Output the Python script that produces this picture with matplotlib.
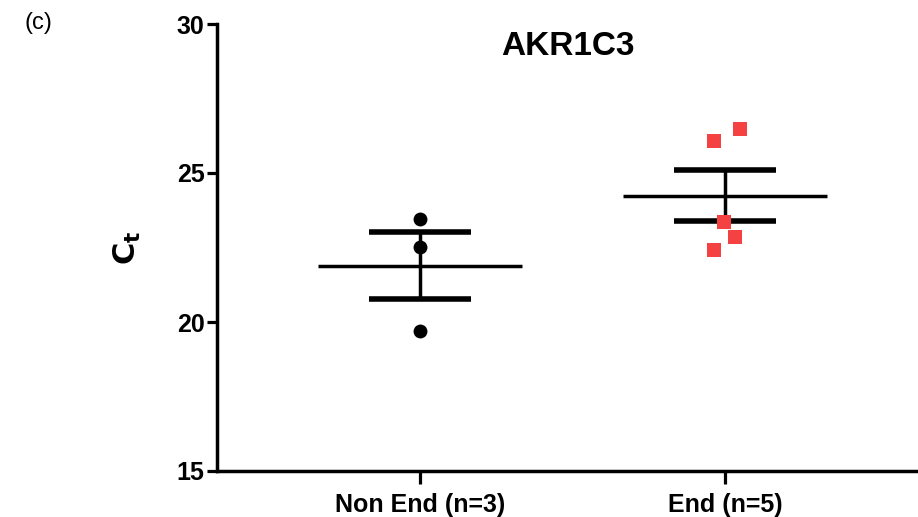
import numpy as np
import matplotlib
matplotlib.use("Agg")
import matplotlib.pyplot as plt

plt.rcParams['font.family'] = ['Liberation Sans', 'DejaVu Sans']

# data
groups = ["Non End (n=3)", "End (n=5)"]
non_end = [23.46, 22.52, 19.70]
end = [26.48, 26.07, 23.36, 22.85, 22.42]
end_jitter = [0.05, -0.036, -0.003, 0.033, -0.036]  # horizontal scatter of the squares
yticks = [15, 20, 25, 30]
title = "AKR1C3"

fig = plt.figure(figsize=(9.18, 5.17), dpi=100)
ax = fig.add_axes([217 / 918, 1 - 471 / 517, 1 - 217 / 918, (471 - 24) / 517])

series = [np.array(non_end), np.array(end)]
xs = [np.zeros(len(non_end)), np.array(end_jitter)]
styles = [dict(marker='o', color='black'), dict(marker='s', color='#f44242')]

for i, (vals, jit, st) in enumerate(zip(series, xs, styles)):
    x = i + 1
    ax.plot(x + jit, vals, linestyle='none', marker=st['marker'], color=st['color'],
            markersize=10, markeredgewidth=0, zorder=3)
    mean = vals.mean()
    sem = vals.std(ddof=1) / np.sqrt(len(vals))
    ax.hlines(mean, x - 0.335, x + 0.335, color='black', lw=2.5, zorder=2)
    ax.errorbar(x, mean, yerr=sem, fmt='none', ecolor='black', elinewidth=2.5,
                capsize=37, capthick=4, zorder=2)

ax.set_xlim(1 - 203 / 305, 2 + 193 / 305)
ax.set_ylim(15, 30)
ax.set_xticks([1, 2])
ax.set_xticklabels(groups, fontsize=18, fontweight='bold')
ax.set_yticks(yticks)
ax.set_yticklabels([str(t) for t in yticks], fontsize=18, fontweight='bold')
ax.tick_params(axis='both', width=2.3, length=7, direction='out')
ax.tick_params(axis='x', length=9, pad=7)
ax.tick_params(axis='y', pad=2)

for side in ['top', 'right']:
    ax.spines[side].set_visible(False)
for side in ['left', 'bottom']:
    ax.spines[side].set_linewidth(2.5)

ax.set_ylabel(r'$\mathbf{C_t}$', fontsize=22, labelpad=24)
ax.set_title(title, fontsize=24, fontweight='bold', pad=-22, y=1.0)
fig.text(25 / 918, 1 - 23 / 517, "(c)", fontsize=17, va='center', ha='left')

fig.savefig("out.png", dpi=100)
